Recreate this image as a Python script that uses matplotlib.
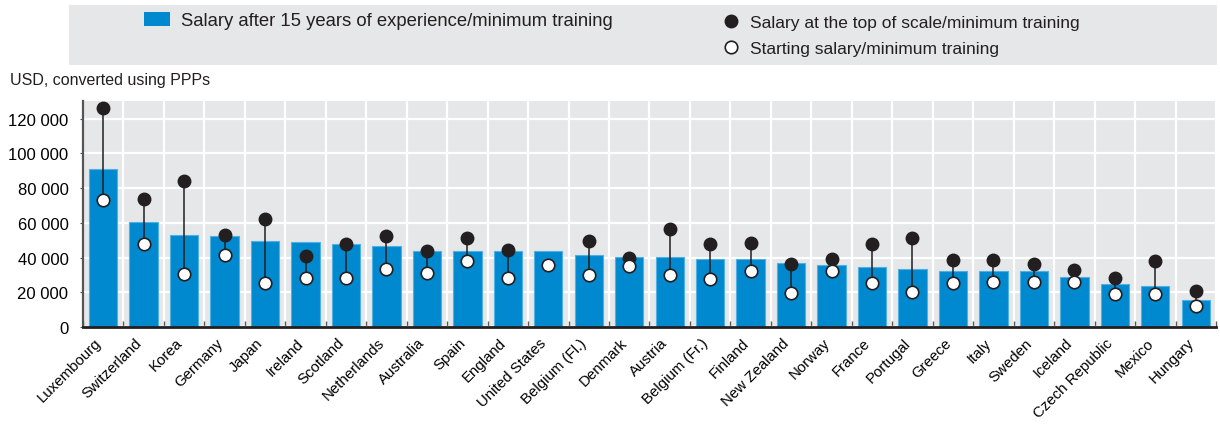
import numpy as np
import matplotlib
matplotlib.use("Agg")
import matplotlib.pyplot as plt
import matplotlib.transforms as mtransforms
from matplotlib.lines import Line2D
from matplotlib.patches import Patch, Rectangle
from matplotlib.ticker import FuncFormatter, MultipleLocator

plt.rcParams["font.family"] = ["Liberation Sans", "DejaVu Sans"]
plt.rcParams["text.color"] = "#231f20"

countries = [
    "Luxembourg", "Switzerland", "Korea", "Germany", "Japan", "Ireland",
    "Scotland", "Netherlands", "Australia", "Spain", "England",
    "United States", "Belgium (Fl.)", "Denmark", "Austria", "Belgium (Fr.)",
    "Finland", "New Zealand", "Norway", "France", "Portugal", "Greece",
    "Italy", "Sweden", "Iceland", "Czech Republic", "Mexico", "Hungary",
]
# salary after 15 years of experience (bars)
salary_15y = [
    91000, 60500, 52800, 52200, 49700, 49200, 47600, 46800, 44000, 44000,
    43600, 43600, 41300, 40500, 40100, 39400, 39000, 37100, 35500, 34400,
    33200, 32400, 32400, 32100, 28800, 25000, 23400, 15600,
]
# salary at the top of scale (None = not available)
salary_top = [
    126300, 73700, 83900, 53000, 62200, 40700, 47800, 52200, 43600, 51500,
    44400, None, 49300, 39600, 56600, 47800, 48600, 36300, 39200, 47800,
    51500, 38600, 38600, 36300, 32600, 28400, 37800, 20500,
]
# starting salary
salary_start = [
    73000, 47800, 30500, 41300, 25300, 28200, 28400, 33600, 31300, 37800,
    28400, 35500, 29800, 34900, 29800, 27600, 32100, 19600, 32100, 25500,
    20400, 25500, 26100, 26100, 26100, 19000, 19000, 11900,
]

BLUE = "#0089cf"
BG = "#e6e7e8"
DARK = "#231f20"

fig = plt.figure(figsize=(12.2, 4.31), dpi=100)
ax = fig.add_axes([0.068, 0.239, 0.9287, 0.524])
ax.set_facecolor(BG)

x = np.arange(len(countries))
top = np.array([np.nan if v is None else v for v in salary_top], dtype=float)
start = np.array(salary_start, dtype=float)

ax.bar(x, salary_15y, width=0.7, color=BLUE, edgecolor="#4fb0e3",
       linewidth=0.8, zorder=2)
ax.vlines(x, start, top, color=DARK, linewidth=1.1, zorder=3)
ax.plot(x, top, "o", ms=9, color=DARK, zorder=4)
ax.plot(x, start, "o", ms=9, mfc="white", mec=DARK, mew=1.2, zorder=5)

ax.set_xlim(-0.5, len(countries) - 0.5)
ax.set_ylim(0, 130000)
ax.yaxis.set_major_locator(MultipleLocator(20000))
ax.yaxis.set_major_formatter(FuncFormatter(lambda v, _: f"{int(v):,}".replace(",", " ")))

# white grid: horizontal at y ticks, vertical between categories
ax.set_xticks(x)
ax.set_xticks(np.arange(len(countries) + 1) - 0.5, minor=True)
ax.grid(True, axis="y", which="major", color="white", linewidth=1.6, zorder=0)
ax.grid(True, axis="x", which="minor", color="white", linewidth=1.6, zorder=0)
ax.grid(False, axis="x", which="major")
ax.set_axisbelow(True)

ax.set_xticklabels(countries, rotation=45, ha="right", rotation_mode="anchor",
                   fontsize=10.8)
ax.tick_params(axis="x", which="major", length=0, pad=6)
ax.tick_params(axis="x", which="minor", direction="in", length=4,
               color="#555555", width=1)
ax.tick_params(axis="y", labelsize=12, length=2.5, color="#555555", pad=8)
# nudge rotated country names a little to the left of their bars
shift = mtransforms.ScaledTranslation(-9 / 100, 0, fig.dpi_scale_trans)
for lbl in ax.get_xticklabels():
    lbl.set_transform(lbl.get_transform() + shift)

for s in ("top", "right"):
    ax.spines[s].set_visible(False)
ax.spines["bottom"].set_linewidth(2)
ax.spines["bottom"].set_color(DARK)
ax.spines["left"].set_linewidth(1.6)
ax.spines["left"].set_color("#555555")

fig.text(10 / 1220, 1 - 81 / 431, "USD, converted using PPPs", fontsize=11.5,
         va="center", ha="left")

# legend band
fig.patches.append(Rectangle((69 / 1220, 1 - 66 / 431), (1217 - 69) / 1220,
                             60 / 431, transform=fig.transFigure,
                             facecolor=BG, edgecolor="none", zorder=0))
fig.legend([Patch(facecolor=BLUE)],
           ["Salary after 15 years of experience/minimum training"],
           loc="center left", bbox_to_anchor=(127 / 1220, 1 - 21.5 / 431),
           frameon=False, fontsize=13.3, handlelength=1.45,
           handleheight=0.85, handletextpad=0.55)
fig.legend([Line2D([], [], marker="o", ls="none", ms=9, color=DARK),
            Line2D([], [], marker="o", ls="none", ms=9, mfc="white",
                   mec=DARK, mew=1.2)],
           ["Salary at the top of scale/minimum training",
            "Starting salary/minimum training"],
           loc="center left", bbox_to_anchor=(707 / 1220, 1 - 36.5 / 431),
           frameon=False, fontsize=12.5, handlelength=1.0, handletextpad=0.6,
           labelspacing=0.65)

fig.savefig("out.png", dpi=100)
